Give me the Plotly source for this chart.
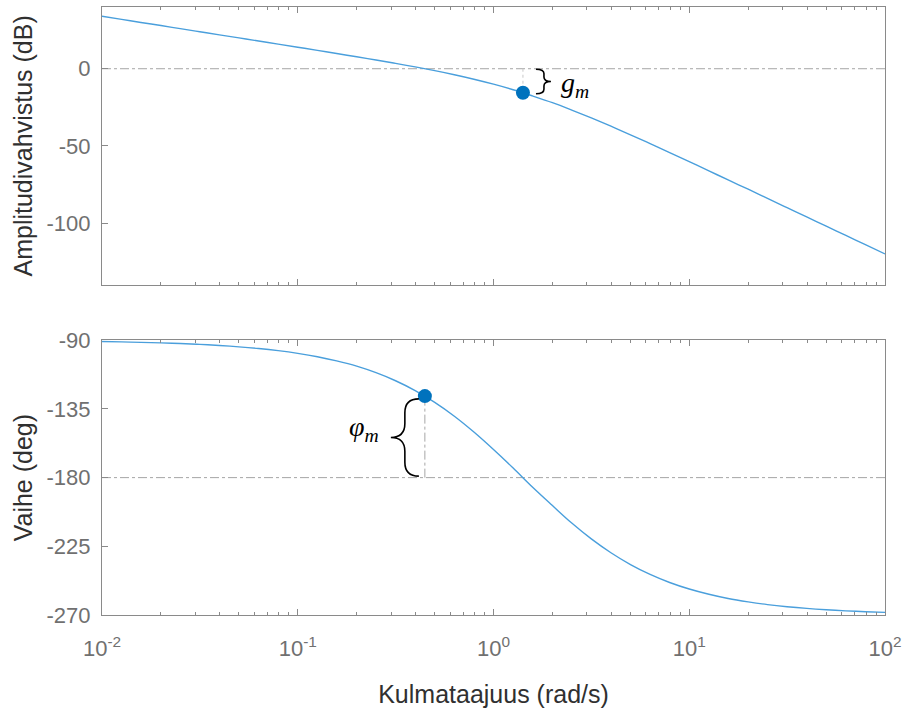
import plotly.graph_objects as go
from plotly.subplots import make_subplots
import math

# ---- data ----
freq = [0.01, 0.0126, 0.0158, 0.02, 0.0251, 0.0316, 0.0398, 0.0501, 0.0631, 0.0794,
        0.1, 0.126, 0.158, 0.2, 0.251, 0.316, 0.398, 0.501, 0.631, 0.794,
        1.0, 1.26, 1.58, 2.0, 2.51, 3.16, 3.98, 5.01, 6.31, 7.94,
        10, 12.6, 15.8, 20, 25.1, 31.6, 39.8, 50.1, 63.1, 79.4, 100]
mag_db = [33.98, 31.98, 29.98, 27.98, 25.98, 23.97, 21.97, 19.97, 17.96, 15.95,
          13.93, 11.89, 9.84, 7.77, 5.65, 3.46, 1.17, -1.26, -3.89, -6.78,
          -10.00, -13.60, -17.59, -21.99, -26.77, -31.88, -37.24, -42.81, -48.52, -54.34,
          -60.21, -66.14, -72.09, -78.05, -84.03, -90.02, -96.01, -102.01, -108.01, -114.00, -120.00]
phase_deg = [-90.86, -91.08, -91.36, -91.72, -92.16, -92.72, -93.42, -94.31, -95.42, -96.82,
             -98.57, -100.78, -103.54, -106.98, -111.26, -116.53, -122.97, -130.69, -139.76, -150.12,
             -161.57, -173.73, -186.15, -198.31, -209.77, -220.15, -229.23, -236.96, -243.41, -248.69,
             -252.98, -256.43, -259.20, -261.41, -263.17, -264.57, -265.69, -266.57, -267.28, -267.84, -268.28]

gm_freq = [1.414]
gm_mag = [-15.56]
pm_freq = [0.446]
pm_phase = [-126.6]

x_tickvals = [0.01, 0.1, 1, 10, 100]
x_ticktext = ["10<sup>-2</sup>", "10<sup>-1</sup>", "10<sup>0</sup>", "10<sup>1</sup>", "10<sup>2</sup>"]
x_minor = [m * d for d in [0.01, 0.1, 1, 10] for m in range(2, 10)]
mag_tickvals = [-100, -50, 0]
mag_ticktext = ["-100", "-50", "0"]
phase_tickvals = [-270, -225, -180, -135, -90]
phase_ticktext = ["-270", "-225", "-180", "-135", "-90"]

x_title = "Kulmataajuus (rad/s)"
mag_title = "Amplitudivahvistus (dB)"
phase_title = "Vaihe (deg)"

# ---- styles ----
LINE_C = "#4a9fdc"
DOT_C = "#0072BD"
AX_C = "#8a8a8a"
TICK_FONT = dict(family="Liberation Sans, Arial, sans-serif", size=22, color="#707070")
TITLE_FONT = dict(family="Liberation Sans, Arial, sans-serif", size=25, color="#303030")
REF_C = "#a6a6a6"

fig = make_subplots(rows=2, cols=1, vertical_spacing=0.09)
fig.update_layout(
    width=911, height=711,
    margin=dict(l=102, r=26, t=6.5, b=96, autoexpand=False),
    plot_bgcolor="white", paper_bgcolor="white",
    showlegend=False,
)
fig.layout.yaxis.domain = [0.5431, 1.0]
fig.layout.yaxis2.domain = [0.0, 0.4519]

fig.add_trace(go.Scatter(x=freq, y=mag_db, mode="lines",
                         line=dict(color=LINE_C, width=1.4, shape="spline")), row=1, col=1)
fig.add_trace(go.Scatter(x=freq, y=phase_deg, mode="lines",
                         line=dict(color=LINE_C, width=1.4, shape="spline")), row=2, col=1)

# reference lines
fig.add_shape(type="line", xref="x domain", yref="y", x0=0, x1=1, y0=0, y1=0,
              line=dict(color=REF_C, width=1, dash="dashdot"), layer="below")
fig.add_shape(type="line", xref="x2 domain", yref="y2", x0=0, x1=1, y0=-180, y1=-180,
              line=dict(color=REF_C, width=1, dash="dashdot"), layer="below")
fig.add_shape(type="line", xref="x", yref="y", x0=gm_freq[0], x1=gm_freq[0], y0=0, y1=gm_mag[0],
              line=dict(color="#c8c8c8", width=1, dash="dot"), layer="below")
fig.add_shape(type="line", xref="x2", yref="y2", x0=pm_freq[0], x1=pm_freq[0], y0=-180, y1=pm_phase[0],
              line=dict(color=REF_C, width=1, dash="dashdot"), layer="below")

# markers
fig.add_trace(go.Scatter(x=gm_freq, y=gm_mag, mode="markers",
                         marker=dict(color=DOT_C, size=14)), row=1, col=1)
fig.add_trace(go.Scatter(x=pm_freq, y=pm_phase, mode="markers",
                         marker=dict(color=DOT_C, size=14)), row=2, col=1)

# braces (x in pixels relative to the margin point, y in data)
def right_brace(top, bot, e, b, t):
    h = top - bot
    mid = (top + bot) / 2
    k = 0.18 * h
    return (f"M {e},{top} Q {b},{top} {b},{top-k} L {b},{mid+k} Q {b},{mid} {t},{mid} "
            f"Q {b},{mid} {b},{mid-k} L {b},{bot+k} Q {b},{bot} {e},{bot}")

fig.add_shape(type="path", xref="x", yref="y", xsizemode="pixel", xanchor=gm_freq[0],
              path=right_brace(-0.3, -16.2, 13, 21, 28),
              line=dict(color="black", width=1.6))
fig.add_shape(type="path", xref="x2", yref="y2", xsizemode="pixel", xanchor=pm_freq[0],
              path=right_brace(-128.4, -179.0, -6, -20, -34),
              line=dict(color="black", width=1.6))

MATH_FONT = dict(family="Liberation Serif, DejaVu Serif, serif", size=28, color="black")
fig.add_annotation(x=math.log10(gm_freq[0]), y=-10.5, xref="x", yref="y",
                   text="<i>g</i><sub><i>m</i></sub>", showarrow=False,
                   xanchor="left", yanchor="middle", xshift=36, font=MATH_FONT)
fig.add_annotation(x=math.log10(pm_freq[0]), y=-147.5, xref="x2", yref="y2",
                   text="<i>φ</i><sub><i>m</i></sub>", showarrow=False,
                   xanchor="right", yanchor="middle", xshift=-44, font=MATH_FONT)

common_x = dict(type="log", range=[-2, 2], showgrid=False, zeroline=False, automargin=False,
                showline=True, linecolor=AX_C, linewidth=1, mirror="ticks",
                ticks="inside", ticklen=6, tickcolor=AX_C, tickwidth=1,
                tickmode="array", tickvals=x_tickvals, ticktext=x_ticktext,
                minor=dict(tickmode="array", tickvals=x_minor, ticks="inside",
                           ticklen=3, tickcolor=AX_C, tickwidth=1, showgrid=False),
                tickfont=TICK_FONT)
fig.update_xaxes(**common_x)
fig.update_xaxes(showticklabels=False, row=1, col=1)
fig.update_xaxes(title=dict(text=x_title, font=TITLE_FONT, standoff=25),
                 ticklabelstandoff=14, row=2, col=1)

common_y = dict(showgrid=False, zeroline=False, showline=True, linecolor=AX_C, linewidth=1,
                mirror=True, ticks="inside", ticklen=6, tickcolor=AX_C, tickwidth=1, automargin=False,
                tickfont=TICK_FONT, tickmode="array", ticklabelstandoff=6)
fig.update_yaxes(range=[-140, 40], tickvals=mag_tickvals, ticktext=mag_ticktext,
                 title=dict(text=mag_title, font=TITLE_FONT, standoff=6), row=1, col=1, **common_y)
fig.update_yaxes(range=[-270, -90], tickvals=phase_tickvals, ticktext=phase_ticktext,
                 title=dict(text=phase_title, font=TITLE_FONT, standoff=6), row=2, col=1, **common_y)

fig.write_html("out.html", config={"displayModeBar": False},
               post_script="document.body.style.margin='0';")
